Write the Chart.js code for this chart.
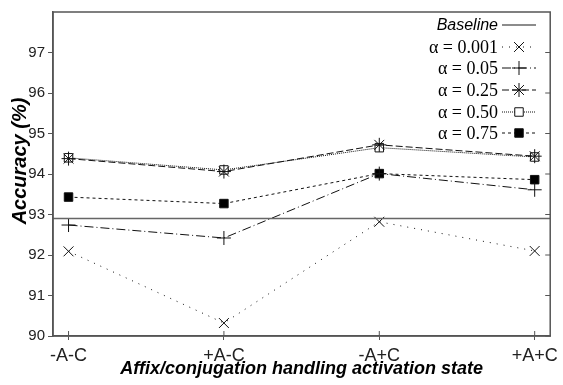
<!DOCTYPE html>
<html>
<head>
<meta charset="utf-8">
<script src="https://cdn.jsdelivr.net/npm/chart.js@4"></script>
<style>
  html, body { margin: 0; padding: 0; background: #fff; }
  #wrap { width: 563px; height: 385px; }
</style>
</head>
<body>
<div id="wrap"><canvas id="chart" width="563" height="385"></canvas></div>
<script>
// categories on the x axis
const states = ['-A-C', '+A-C', '-A+C', '+A+C'];
const yTicks = [90, 91, 92, 93, 94, 95, 96, 97];

// accuracy values per setting
const baseline = 92.9;
const alpha001 = [92.09, 90.32, 92.82, 92.10];
const alpha005 = [92.74, 92.42, 94.01, 93.61];
const alpha025 = [94.38, 94.06, 94.72, 94.44];
const alpha050 = [94.40, 94.10, 94.65, 94.42];
const alpha075 = [93.43, 93.27, 94.01, 93.86];

const series = [
    { label: 'α = 0.001', data: alpha001, dash: [1, 6], point: 'crossRot', fill: false },
    { label: 'α = 0.05', data: alpha005, dash: [9, 3, 1, 3], point: 'cross', fill: false },
    { label: 'α = 0.25', data: alpha025, dash: [7, 3], point: 'star', fill: false },
    { label: 'α = 0.50', data: alpha050, dash: [1, 1], point: 'rect', fill: false },
    { label: 'α = 0.75', data: alpha075, dash: [3, 3], point: 'rect', fill: true }
];

const toPoints = arr => arr.map((v, i) => ({ x: i, y: v }));

const datasets = [{
    label: 'Baseline',
    data: [{ x: -0.1, y: baseline }, { x: 3.1, y: baseline }],
    borderColor: '#666',
    borderWidth: 1.6,
    pointRadius: 0,
    fill: false
}];
series.forEach(s => {
    datasets.push({
        label: s.label,
        data: toPoints(s.data),
        borderColor: '#111',
        borderWidth: 1,
        borderDash: s.dash,
        pointStyle: s.point,
        pointRadius: s.point === 'rect' ? 6 : 7,
        pointBorderColor: '#111',
        pointBorderWidth: 1,
        pointBackgroundColor: s.fill ? '#000' : '#fff',
        fill: false
    });
});

// frame round the plot area, inner ticks, y title
const framePlugin = {
    id: 'frame',
    afterDraw(chart) {
        const { ctx, chartArea: a } = chart;
        ctx.save();
        ctx.strokeStyle = '#555';
        ctx.lineWidth = 1.5;
        ctx.strokeRect(a.left, a.top, a.right - a.left, a.bottom - a.top);
        ctx.lineWidth = 1;
        const ys = chart.scales.y;
        yTicks.forEach(t => {
            const y = ys.getPixelForValue(t);
            ctx.beginPath(); ctx.moveTo(a.right, y); ctx.lineTo(a.right - 5, y); ctx.stroke();
        });
        const xs = chart.scales.x;
        states.forEach((s, i) => {
            const x = xs.getPixelForValue(i);
            ctx.beginPath(); ctx.moveTo(x, a.bottom); ctx.lineTo(x, a.bottom - 5); ctx.stroke();
        });
        // y axis title
        ctx.translate(20, 161);
        ctx.rotate(-Math.PI / 2);
        ctx.fillStyle = '#000';
        ctx.textAlign = 'center';
        ctx.textBaseline = 'middle';
        ctx.font = 'italic bold 20px "Liberation Sans", Arial, sans-serif';
        ctx.fillText('Accuracy (%)', 0, 0);
        ctx.restore();
    }
};

// legend: text right aligned, line sample to the right
const legendPlugin = {
    id: 'rightLegend',
    afterDraw(chart) {
        const { ctx } = chart;
        const textRight = 498;
        const x0 = 502, x1 = 536;
        const rows = [25, 47, 68, 90, 112, 133];
        ctx.save();
        chart.data.datasets.forEach((ds, i) => {
            const y = rows[i];
            ctx.fillStyle = '#000';
            ctx.textAlign = 'right';
            ctx.textBaseline = 'middle';
            ctx.font = i === 0 ? 'italic 16px "Liberation Sans", Arial, sans-serif'
                               : '18px "Liberation Serif", "Times New Roman", serif';
            ctx.fillText(ds.label, textRight, y + 1);
            ctx.strokeStyle = ds.borderColor;
            ctx.lineWidth = ds.borderWidth;
            ctx.setLineDash(ds.borderDash || []);
            ctx.beginPath(); ctx.moveTo(x0, y); ctx.lineTo(x1, y); ctx.stroke();
            ctx.setLineDash([]);
            if (ds.pointRadius) {
                ctx.fillStyle = ds.pointBackgroundColor;
                ctx.strokeStyle = ds.pointBorderColor;
                ctx.lineWidth = 1;
                Chart.helpers.drawPoint(ctx, {
                    pointStyle: ds.pointStyle, radius: ds.pointRadius, borderWidth: 1, rotation: 0
                }, (x0 + x1) / 2, y);
            }
        });
        ctx.restore();
    }
};

new Chart(document.getElementById('chart'), {
    type: 'line',
    data: { datasets },
    plugins: [framePlugin, legendPlugin],
    options: {
        responsive: false,
        animation: false,
        layout: { padding: { top: 10, right: 10, left: 0, bottom: 0 } },
        plugins: { legend: { display: false }, tooltip: { enabled: false } },
        scales: {
            x: {
                type: 'linear',
                min: -0.1,
                max: 3.1,
                afterBuildTicks: axis => { axis.ticks = states.map((s, i) => ({ value: i })); },
                ticks: {
                    callback: v => states[v],
                    color: '#222',
                    font: { family: '"Liberation Sans", Arial, sans-serif', size: 18 },
                    padding: 5,
                    maxRotation: 0
                },
                grid: { drawOnChartArea: false, tickLength: 4, color: '#555' },
                border: { color: '#555', width: 1.5 },
                title: {
                    display: true,
                    text: 'Affix/conjugation handling activation state',
                    color: '#000',
                    font: { family: '"Liberation Sans", Arial, sans-serif', size: 18, weight: 'bold', style: 'italic' },
                    padding: { top: 0, bottom: 5 }
                },
                afterFit: axis => { axis.height = 49; }
            },
            y: {
                min: 90,
                max: 98,
                afterBuildTicks: axis => { axis.ticks = yTicks.map(v => ({ value: v })); },
                ticks: {
                    color: '#222',
                    font: { family: '"Liberation Sans", Arial, sans-serif', size: 15 },
                    padding: 3
                },
                grid: { drawOnChartArea: false, tickLength: 5, color: '#555' },
                border: { color: '#555', width: 1.5 },
                afterFit: axis => { axis.width = 53; }
            }
        }
    }
});
</script>
</body>
</html>
